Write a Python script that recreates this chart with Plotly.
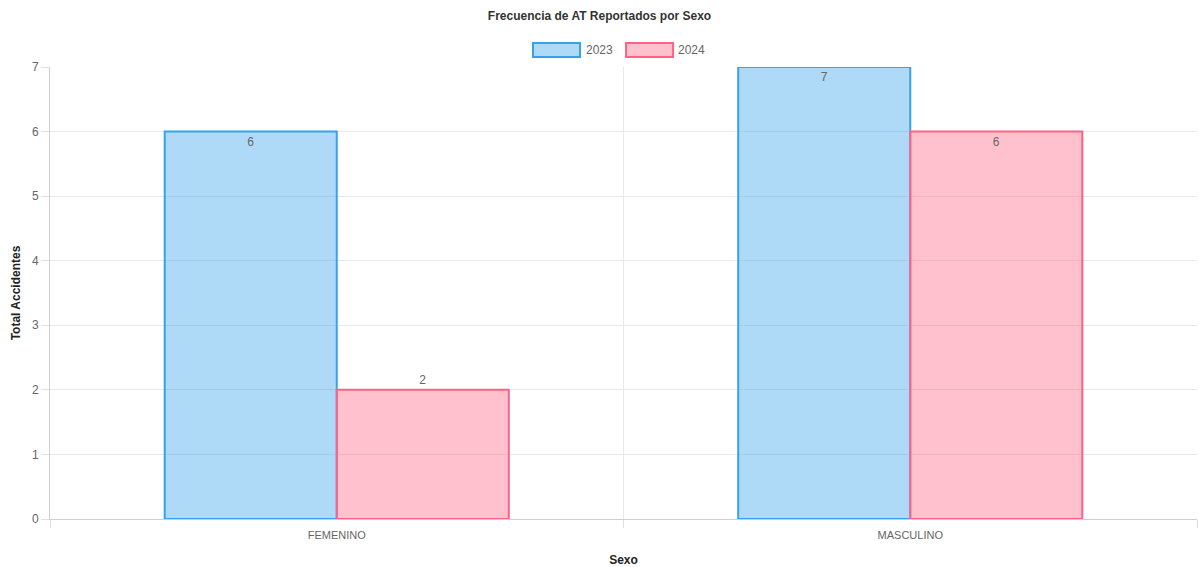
import plotly.graph_objects as go

# Accident counts by sex for each year
categorias = ["FEMENINO", "MASCULINO"]
anios = ["2023", "2024"]
valores_2023 = [6, 7]
valores_2024 = [2, 6]

FONT = "Liberation Sans, Arial, Helvetica, sans-serif"
relleno = {"2023": "rgba(54,162,235,0.4)", "2024": "rgba(255,99,132,0.4)"}
borde = {"2023": "rgb(54,162,235)", "2024": "rgb(255,99,132)"}


def posicion_texto(vals):
    # labels sit inside tall bars, above short ones
    return ["inside" if v >= 3 else "outside" for v in vals]


fig = go.Figure()
for anio, vals in zip(anios, [valores_2023, valores_2024]):
    fig.add_trace(go.Bar(
        name=anio,
        x=categorias,
        y=vals,
        text=[str(v) for v in vals],
        textposition=posicion_texto(vals),
        insidetextanchor="end",
        textfont=dict(family=FONT, size=12, color="#666"),
        outsidetextfont=dict(family=FONT, size=12, color="#666"),
        insidetextfont=dict(family=FONT, size=12, color="#666"),
        marker=dict(color=relleno[anio], line=dict(color=borde[anio], width=2)),
        cliponaxis=False,
        showlegend=False,
        hoverinfo="x+y+name",
    ))

# Legend drawn as wide outlined boxes with labels above the plot area
shapes = []
annotations = []
leg_items = [("2023", 0.4211, 0.4621, 0.4655), ("2024", 0.5022, 0.5432, 0.5457)]
for anio, x0, x1, xt in leg_items:
    shapes.append(dict(
        type="rect", xref="paper", yref="paper",
        x0=x0, x1=x1, y0=1.0221, y1=1.0531,
        fillcolor=relleno[anio], line=dict(color=borde[anio], width=2),
    ))
    annotations.append(dict(
        text=anio, xref="paper", yref="paper",
        x=xt, y=1.0376, xanchor="left", yanchor="middle",
        showarrow=False, font=dict(family=FONT, size=12, color="#666"),
    ))

fig.update_layout(
    width=1199,
    height=567,
    margin=dict(l=50, r=2, t=67, b=48),
    paper_bgcolor="white",
    plot_bgcolor="white",
    barmode="group",
    bargap=0.4,
    bargroupgap=0.0,
    font=dict(family=FONT, size=12, color="#666"),
    title=dict(
        text="<b>Frecuencia de AT Reportados por Sexo</b>",
        x=0.5, xanchor="center", y=0.973, yanchor="middle",
        font=dict(family=FONT, size=12, color="#333"),
    ),
    xaxis=dict(
        type="category",
        tickson="boundaries",
        showgrid=True,
        gridcolor="#e9e9e9",
        ticks="outside",
        ticklen=8,
        tickcolor="#e0e0e0",
        ticklabelstandoff=6,
        showline=True,
        linecolor="#cfcfcf",
        linewidth=1,
        tickfont=dict(family=FONT, size=11, color="#666"),
        title=dict(text="<b>Sexo</b>", standoff=16,
                   font=dict(family=FONT, size=12, color="#222")),
        zeroline=False,
    ),
    yaxis=dict(
        range=[0, 7],
        dtick=1,
        showgrid=True,
        gridcolor="#e9e9e9",
        ticks="outside",
        ticklen=8,
        tickcolor="#e0e0e0",
        showline=True,
        linecolor="#cfcfcf",
        linewidth=1,
        zeroline=False,
        tickfont=dict(family=FONT, size=12, color="#666"),
        title=dict(text="<b>Total Accidentes</b>", standoff=8,
                   font=dict(family=FONT, size=12, color="#222")),
    ),
    shapes=shapes,
    annotations=annotations,
)

fig.write_html("out.html")
